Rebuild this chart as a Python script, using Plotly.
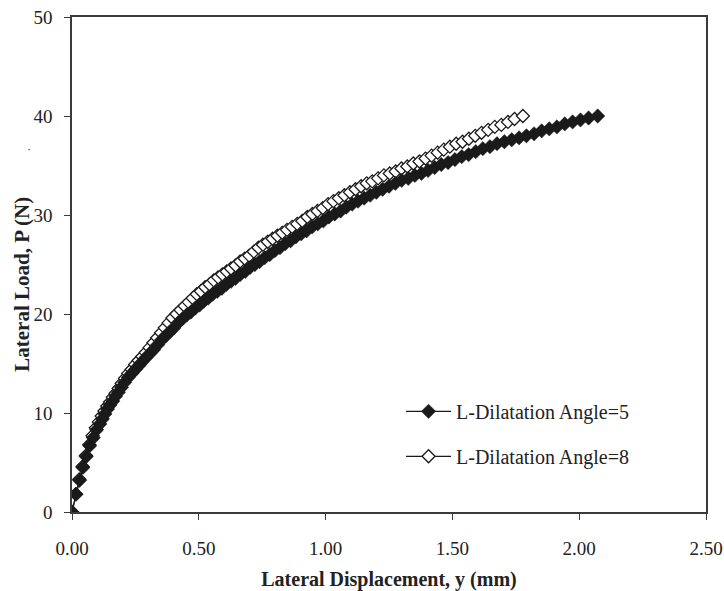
import plotly.graph_objects as go

# Lateral load vs lateral displacement, dilatation angle 5
disp_a5 = [0.000, 0.016, 0.030, 0.043, 0.056, 0.070, 0.084, 0.097, 0.110, 0.120,
           0.130, 0.140, 0.150, 0.161, 0.172, 0.183, 0.195, 0.208, 0.222, 0.236,
           0.250, 0.264, 0.278, 0.292, 0.307, 0.322, 0.338, 0.354, 0.370, 0.386,
           0.402, 0.418, 0.435, 0.452, 0.469, 0.486, 0.503, 0.520, 0.537, 0.555,
           0.573, 0.591, 0.609, 0.627, 0.645, 0.664, 0.683, 0.702, 0.721, 0.740,
           0.760, 0.780, 0.800, 0.820, 0.841, 0.862, 0.883, 0.904, 0.925, 0.947,
           0.969, 0.991, 1.013, 1.036, 1.059, 1.082, 1.105, 1.128, 1.152, 1.176,
           1.200, 1.225, 1.250, 1.275, 1.300, 1.326, 1.352, 1.378, 1.404, 1.430,
           1.456, 1.483, 1.510, 1.537, 1.564, 1.592, 1.620, 1.648, 1.676, 1.705,
           1.734, 1.763, 1.792, 1.822, 1.852, 1.882, 1.912, 1.943, 1.974, 2.005,
           2.037, 2.073]
load_a5 = [0.0, 1.8, 3.2, 4.5, 5.6, 6.7, 7.5, 8.3, 8.9, 9.4,
           9.9, 10.4, 10.8, 11.2, 11.7, 12.1, 12.6, 13.1, 13.6, 14.0,
           14.4, 14.8, 15.2, 15.6, 16.0, 16.4, 16.9, 17.4, 17.8, 18.2,
           18.6, 19.1, 19.5, 19.9, 20.2, 20.6, 20.9, 21.3, 21.6, 22.0,
           22.3, 22.6, 23.0, 23.3, 23.6, 24.0, 24.3, 24.7, 25.0, 25.3,
           25.7, 26.0, 26.4, 26.7, 27.1, 27.4, 27.8, 28.1, 28.4, 28.8,
           29.1, 29.4, 29.8, 30.1, 30.4, 30.8, 31.1, 31.4, 31.7, 32.0,
           32.3, 32.6, 32.9, 33.2, 33.5, 33.7, 34.0, 34.2, 34.5, 34.8,
           35.1, 35.3, 35.6, 35.9, 36.1, 36.4, 36.7, 36.9, 37.2, 37.4,
           37.6, 37.8, 38.0, 38.2, 38.5, 38.7, 38.9, 39.2, 39.4, 39.6,
           39.8, 40.0]

# Dilatation angle 8
disp_a8 = [0.000, 0.015, 0.029, 0.042, 0.055, 0.068, 0.081, 0.094, 0.106, 0.117,
           0.128, 0.139, 0.150, 0.161, 0.172, 0.184, 0.196, 0.209, 0.222, 0.235,
           0.249, 0.263, 0.277, 0.291, 0.306, 0.321, 0.336, 0.351, 0.366, 0.381,
           0.396, 0.412, 0.428, 0.444, 0.460, 0.476, 0.492, 0.508, 0.525, 0.542,
           0.559, 0.576, 0.593, 0.610, 0.627, 0.645, 0.663, 0.681, 0.699, 0.717,
           0.735, 0.753, 0.772, 0.791, 0.810, 0.829, 0.848, 0.868, 0.888, 0.908,
           0.928, 0.948, 0.968, 0.989, 1.010, 1.031, 1.052, 1.074, 1.096, 1.118,
           1.140, 1.162, 1.184, 1.207, 1.230, 1.253, 1.276, 1.299, 1.322, 1.346,
           1.370, 1.394, 1.418, 1.442, 1.466, 1.490, 1.515, 1.540, 1.565, 1.590,
           1.615, 1.641, 1.667, 1.693, 1.719, 1.745, 1.778]
load_a8 = [0.0, 1.8, 3.3, 4.6, 5.7, 6.8, 7.7, 8.5, 9.1, 9.7,
           10.2, 10.7, 11.1, 11.6, 12.0, 12.5, 13.0, 13.5, 14.0, 14.4,
           14.9, 15.3, 15.7, 16.1, 16.6, 17.1, 17.6, 18.1, 18.6, 19.1,
           19.6, 20.0, 20.4, 20.8, 21.2, 21.6, 22.0, 22.3, 22.7, 23.0,
           23.4, 23.7, 24.0, 24.3, 24.6, 24.9, 25.3, 25.6, 25.9, 26.3,
           26.7, 27.0, 27.3, 27.6, 27.9, 28.2, 28.5, 28.8, 29.1, 29.4,
           29.8, 30.1, 30.4, 30.7, 31.1, 31.4, 31.7, 32.0, 32.3, 32.6,
           32.9, 33.2, 33.4, 33.7, 34.0, 34.2, 34.4, 34.7, 34.9, 35.2,
           35.4, 35.7, 36.0, 36.3, 36.6, 36.9, 37.2, 37.4, 37.7, 38.0,
           38.3, 38.6, 38.9, 39.1, 39.4, 39.7, 40.0]

x_ticks = [0.0, 0.5, 1.0, 1.5, 2.0, 2.5]
x_tick_text = ["0.00", "0.50", "1.00", "1.50", "2.00", "2.50"]
y_ticks = [0, 10, 20, 30, 40, 50]

FONT = "Liberation Serif, Times New Roman, serif"
INK = "#1a1a1a"

fig = go.Figure()
# open-diamond series sits underneath the filled one
fig.add_trace(go.Scatter(
    x=disp_a8, y=load_a8, mode="lines+markers",
    name="L-Dilatation Angle=8", legendrank=2, legendgroup="a8",
    line=dict(color=INK, width=1.2),
    marker=dict(symbol="diamond", size=10, color="white",
                line=dict(color=INK, width=1.3)),
))
fig.add_trace(go.Scatter(
    x=disp_a5, y=load_a5, mode="lines+markers",
    name="L-Dilatation Angle=5", legendrank=1, legendgroup="a5",
    line=dict(color=INK, width=1.2),
    marker=dict(symbol="diamond", size=11, color=INK,
                line=dict(color=INK, width=0.5)),
))

axis_common = dict(
    showline=True, linecolor="#3a3a3a", linewidth=1.5, mirror=True,
    showgrid=False, zeroline=False, ticks="outside", ticklen=6,
    tickcolor="#3a3a3a", tickwidth=1.2, automargin=False,
    tickfont=dict(family=FONT, size=19, color="#222"),
)

fig.update_xaxes(
    range=[0, 2.5], tickvals=x_ticks, ticktext=x_tick_text,
    ticklabelstandoff=12,
    title=dict(text="<b>Lateral Displacement, y (mm)</b>",
               font=dict(family=FONT, size=20, color="#222"), standoff=16),
    **axis_common,
)
fig.update_yaxes(
    range=[0, 50], tickvals=y_ticks, ticklabelstandoff=8,
    **axis_common,
)

# y-axis title placed as a rotated annotation
fig.add_annotation(
    text="<b>Lateral Load, P (N)</b>", xref="paper", yref="paper",
    x=-0.079, y=0.461, textangle=-90, showarrow=False,
    xanchor="center", yanchor="middle",
    font=dict(family=FONT, size=21, color="#222"),
)

fig.add_annotation(
    text="•", xref="paper", yref="paper", x=-0.0726, y=0.743,
    showarrow=False, font=dict(size=6, color="#222"),
)

fig.update_layout(
    width=724, height=591,
    margin=dict(l=72, r=18, t=17, b=79),
    paper_bgcolor="white", plot_bgcolor="white",
    showlegend=True,
    legend=dict(
        x=0.519, y=0.158, xanchor="left", yanchor="middle",
        bgcolor="rgba(0,0,0,0)", traceorder="grouped", tracegroupgap=16,
        itemwidth=45,
        font=dict(family=FONT, size=20, color="#222"),
    ),
)

fig.write_html("out.html")
